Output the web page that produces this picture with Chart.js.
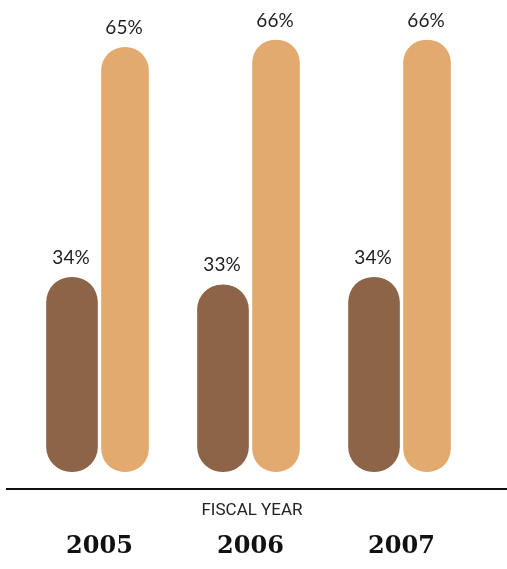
<!DOCTYPE html>
<html lang="en">
<head>
    <meta charset="UTF-8">
    <title>Fiscal Year Bars</title>
    <script src="https://cdn.jsdelivr.net/npm/chart.js"></script>
    <style>
        html, body { margin: 0; padding: 0; background: #fff; }
        .chart-container { position: relative; width: 507px; height: 569px; }
    </style>
</head>
<body>
    <div class="chart-container">
        <canvas id="fiscalChart"></canvas>
    </div>

    <script>
        // data
        const years = ['2005', '2006', '2007'];
        const darkValues = [34, 33, 34];
        const lightValues = [65, 66, 66];

        const darkColor = '#8E6449';
        const lightColor = '#E3AA70';

        // bars start a bit above zero in the original, so the axis does too
        const axisMin = 7.7;
        const axisMax = 70;

        // percent labels above the bars, baseline line and axis caption
        const labelsPlugin = {
            id: 'labelsPlugin',
            afterDatasetsDraw(chart) {
                const ctx = chart.ctx;
                ctx.save();
                ctx.fillStyle = '#1e1e1e';
                ctx.font = '19px Lato';
                ctx.textAlign = 'center';
                ctx.textBaseline = 'alphabetic';
                chart.data.datasets.forEach((ds, i) => {
                    chart.getDatasetMeta(i).data.forEach((bar, j) => {
                        ctx.fillText(ds.data[j] + '%', bar.x - 1, bar.y - 13);
                    });
                });

                const area = chart.chartArea;
                ctx.strokeStyle = '#111';
                ctx.lineWidth = 2;
                ctx.beginPath();
                ctx.moveTo(6, area.bottom + 17);
                ctx.lineTo(507, area.bottom + 17);
                ctx.stroke();

                ctx.fillStyle = '#222';
                ctx.font = '17px Roboto';
                ctx.textBaseline = 'middle';
                ctx.fillText('FISCAL YEAR', 252, area.bottom + 39);
                ctx.restore();
            }
        };

        const ctx = document.getElementById('fiscalChart').getContext('2d');
        new Chart(ctx, {
            type: 'bar',
            data: {
                labels: years,
                datasets: [{
                    data: darkValues,
                    base: axisMin,
                    backgroundColor: darkColor,
                    borderColor: '#ffffff',
                    borderWidth: { left: 2, right: 2, top: 0, bottom: 0 },
                    borderSkipped: false,
                    borderRadius: 100,
                    barThickness: 55
                }, {
                    data: lightValues,
                    base: axisMin,
                    backgroundColor: lightColor,
                    borderColor: '#ffffff',
                    borderWidth: { left: 2, right: 2, top: 0, bottom: 0 },
                    borderSkipped: false,
                    borderRadius: 100,
                    barThickness: 51
                }]
            },
            options: {
                responsive: true,
                maintainAspectRatio: false,
                animation: false,
                layout: {
                    padding: { left: 24, right: 30, top: 10, bottom: 0 }
                },
                plugins: {
                    legend: { display: false },
                    tooltip: { enabled: false }
                },
                scales: {
                    x: {
                        grid: { display: false, drawTicks: false },
                        border: { display: false },
                        ticks: {
                            padding: 60,
                            color: '#111',
                            font: { family: 'DejaVu Serif', size: 24, weight: 'bold' }
                        },
                        afterFit(scale) {
                            scale.height = 97;
                        }
                    },
                    y: {
                        display: false,
                        beginAtZero: false,
                        min: axisMin,
                        max: axisMax
                    }
                }
            },
            plugins: [labelsPlugin]
        });
    </script>
</body>
</html>
